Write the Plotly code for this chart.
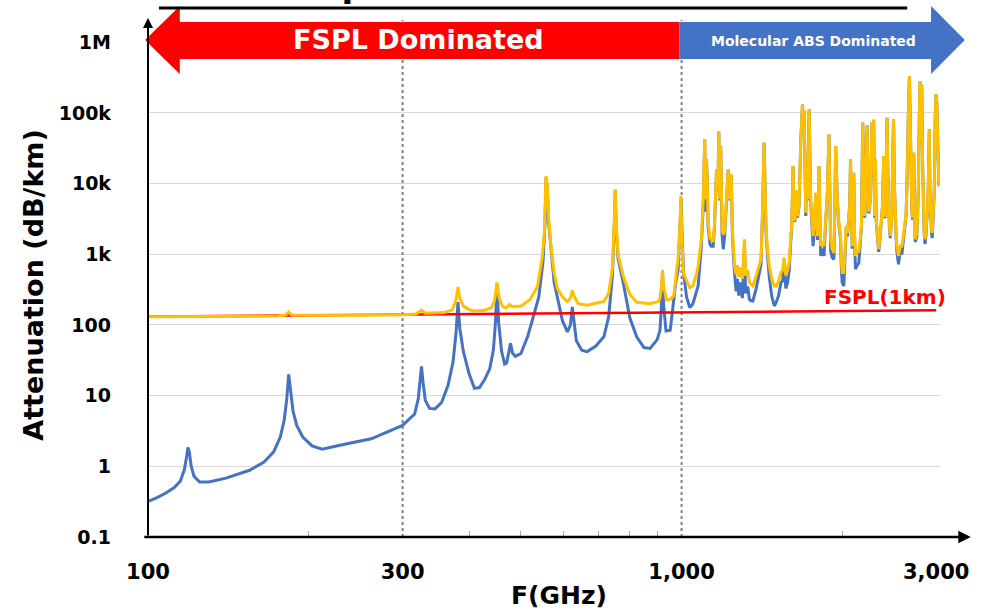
import math
import plotly.graph_objects as go

# ---------------- data ----------------
# Absorption-only curve (blue), 100 GHz .. 1074 GHz
blue_lo_f = [100, 104, 108, 112, 115, 117, 118.2, 118.8, 119.5, 120.5, 122, 125, 130, 140, 155, 165, 172, 177,
             180, 182, 183.5, 185, 187, 190, 195, 203, 212, 230, 262, 300, 316, 321, 324, 325.5, 327.5, 331,
             337, 345, 355, 365, 373, 378, 381, 384, 390, 400, 409, 418, 427, 437, 444, 448, 451, 454, 460,
             466, 470, 475, 478, 482, 488, 500, 515, 530, 540, 550, 555, 557, 560, 563, 569, 577, 585, 598,
             611, 619, 624, 628, 635, 650, 665, 690, 715, 730, 742, 748, 751, 754, 760, 778, 800, 824, 850,
             873, 900, 911, 917, 921, 925, 935, 952, 965, 975, 985, 993, 998, 1003, 1010, 1022, 1036, 1050,
             1067, 1074]
blue_lo_v = [0.32, 0.36, 0.42, 0.5, 0.62, 0.9, 1.4, 1.85, 1.6, 1.0, 0.72, 0.6, 0.6, 0.68, 0.88, 1.15, 1.6, 2.6,
             4.5, 9, 20, 12, 6, 3.8, 2.6, 1.95, 1.75, 2.0, 2.45, 3.8, 5.5, 9, 18, 26, 16, 8.5,
             6.6, 6.5, 8, 14, 30, 80, 211, 90, 42, 20, 12.7, 13, 16.6, 24, 45, 110, 383, 110, 42,
             28, 29, 42, 55, 40, 36, 39.5, 70, 150, 250, 800, 3000, 12000, 9000, 3000, 1100, 400, 248, 115,
             80, 100, 180, 120, 60, 44, 42, 50, 68, 130, 500, 2500, 8000, 2500, 900, 383, 125, 68, 48,
             46.5, 62, 84, 200, 590, 200, 82, 84, 200, 400, 600, 2000, 6000, 1500, 500, 248, 176, 200,
             308, 356]

# Total curve (orange), 100 GHz .. 1074 GHz
orange_lo_f = [100, 140, 175, 181, 183.5, 186, 250, 300, 318, 325.5, 331, 360, 372, 378, 381, 384, 390, 400,
               409, 427, 440, 446, 451, 455, 462, 469, 476, 482, 500, 520, 537, 548, 553, 557, 560, 563, 569,
               577, 585, 598, 611, 619, 624, 628, 640, 665, 690, 715, 730, 742, 748, 751, 754, 760, 778, 800,
               824, 873, 905, 911, 917, 921, 925, 937, 952, 967, 979, 985, 993, 997, 1002, 1008, 1022, 1036,
               1050, 1067, 1074]
orange_lo_v = [131, 132, 134, 138, 152, 138, 137, 140, 143, 162, 147, 150, 165, 230, 345, 240, 185, 165,
               158, 162, 175, 220, 400, 240, 182, 175, 195, 182, 185, 230, 350, 900, 2000, 12800, 10000, 3500, 1300,
               550, 330, 250, 215, 240, 310, 260, 200, 190, 200, 215, 280, 650, 3000, 8300, 3000, 1000, 480, 270,
               210, 200, 215, 240, 350, 600, 350, 225, 230, 260, 600, 850, 2500, 6700, 1400, 551, 420, 338,
               360, 530, 683]

# Molecular-absorption dominated band, 1089 GHz .. 3036 GHz
hi_f = [1089, 1098, 1105, 1108, 1113, 1117, 1121, 1130, 1137, 1146, 1152, 1158, 1163, 1170, 1174, 1179, 1184,
        1191, 1197, 1204, 1211, 1217, 1223, 1228, 1235, 1239, 1245, 1252, 1257, 1265, 1272, 1280, 1290, 1300,
        1312, 1318, 1330, 1340, 1350, 1360, 1380, 1400, 1409, 1418, 1423, 1428, 1434, 1440, 1450, 1460, 1475,
        1492, 1503, 1520, 1535, 1547, 1557, 1568, 1580, 1591, 1600, 1609, 1618, 1625, 1632, 1640, 1649, 1660,
        1673, 1685, 1691, 1697, 1709, 1716, 1722, 1734, 1746, 1755, 1764, 1775, 1784, 1791, 1798, 1805, 1810,
        1817, 1823, 1836, 1849, 1862, 1876, 1889, 1896, 1903, 1915, 1930, 1938, 1944, 1951, 1958, 1970, 1986,
        1993, 2000, 2014, 2025, 2035, 2045, 2058, 2066, 2073, 2080, 2088, 2095, 2102, 2110, 2118, 2133, 2148,
        2160, 2173, 2185, 2195, 2204, 2215, 2227, 2235, 2243, 2259, 2275, 2283, 2291, 2300, 2308, 2316, 2325,
        2341, 2355, 2368, 2380, 2392, 2400, 2409, 2418, 2427, 2435, 2444, 2452, 2461, 2470, 2479, 2488, 2496,
        2505, 2514, 2523, 2532, 2541, 2550, 2568, 2587, 2605, 2620, 2635, 2645, 2655, 2664, 2673, 2683, 2693,
        2700, 2708, 2716, 2724, 2732, 2740, 2750, 2760, 2770, 2779, 2790, 2799, 2809, 2819, 2829, 2839, 2849,
        2859, 2870, 2880, 2890, 2900, 2912, 2920, 2930, 2940, 2950, 2962, 2976, 2987, 2997, 3008, 3019, 3036]
hi_orange = [1630, 6000, 42400, 6000, 22100, 12000, 3000, 1700, 1630, 1500, 2500, 7440, 15900, 8000, 55600, 6000, 34000,
             2260, 1900, 2100, 4000, 9270, 15900, 6000, 8000, 13500, 2260, 1100, 683, 520, 700, 480, 650, 450,
             1630, 500, 600, 400, 370, 356, 500, 700, 850, 4000, 11500, 38100, 8000, 2260, 1100, 683, 450,
             356, 356, 420, 550, 600, 900, 500, 600, 763, 1500, 2800, 17800, 3500, 3000, 8000, 3480, 5000,
             42400, 133000, 60000, 110000, 3890, 15000, 6000, 112000, 5370, 3000, 1810, 3000, 7440, 2500, 1810, 6000, 17800,
             3000, 1300, 1500, 1300, 3000, 7440, 49700, 5000, 1630, 1200, 1050, 6000, 34000, 15000, 6000, 3000, 1810,
             800, 551, 551, 1200, 2520, 2000, 4000, 5000, 22100, 3000, 1300, 5000, 14300, 2000, 950, 1100, 1100,
             1500, 2520, 73100, 10000, 3500, 8000, 67000, 10000, 4000, 6000, 73100, 50000, 80000, 3500, 22100, 3130, 2000,
             1180, 1800, 3130, 5000, 24500, 3500, 3500, 20000, 85900, 15000, 4000, 2500, 1810, 2500, 3800, 30000, 81000,
             10000, 3500, 2000, 1300, 1000, 950, 1300, 1300, 1810, 2500, 3800, 10000, 90000, 150000, 333000, 30000, 15000,
             5000, 3300, 8000, 27400, 5000, 1630, 1800, 2000, 4000, 10000, 100000, 283000, 40000, 250000, 20000, 3130, 2200,
             1630, 2000, 3130, 4000, 10000, 58800, 8000, 2500, 2200, 2000, 3500, 8300, 80000, 184000, 140000, 60000, 9270]
hi_blue = [1300, 5000, 42000, 4000, 22000, 12000, 2500, 1400, 1300, 1300, 2300, 7300, 15800, 7800, 55000, 5800, 34000,
           1900, 1180, 1800, 3800, 9100, 15800, 5800, 7900, 13400, 2000, 800, 490, 300, 450, 260, 400, 240,
           1400, 280, 350, 230, 220, 218, 330, 560, 720, 3900, 11400, 38000, 7800, 2000, 900, 480, 260,
           186, 207, 260, 400, 420, 750, 330, 400, 600, 1300, 2700, 17700, 3400, 2900, 7900, 3300, 4900,
           42300, 133000, 60000, 110000, 3500, 14900, 5800, 112000, 5200, 2800, 1300, 2800, 7300, 2300, 1600, 5900, 17700,
           2800, 950, 1200, 950, 2800, 7300, 49600, 4800, 1100, 900, 850, 5800, 33900, 14900, 5800, 2800, 1600,
           600, 398, 356, 1000, 2400, 1800, 3900, 4900, 22000, 2800, 1200, 4900, 14200, 1500, 614, 700, 750,
           1300, 2400, 73000, 9900, 3300, 7900, 67000, 9900, 3800, 5900, 73000, 50000, 80000, 3300, 22000, 3000, 1800,
           1080, 1700, 3000, 4900, 24400, 3400, 3300, 20000, 85800, 14900, 3800, 2300, 1700, 2400, 3600, 30000, 81000,
           9900, 3300, 1800, 1100, 800, 722, 1100, 1000, 1600, 2400, 3600, 9900, 90000, 150000, 333000, 30000, 14900,
           4900, 3100, 7900, 27300, 4800, 1500, 1600, 1800, 3900, 9900, 100000, 283000, 40000, 250000, 20000, 3000, 2000,
           1400, 1800, 3000, 3900, 9900, 58700, 7900, 2300, 2000, 1700, 3400, 8200, 80000, 184000, 140000, 60000, 9200]

# Free-space path loss over 1 km (red)
fspl_f = [100, 200, 300, 500, 700, 1000, 1500, 2000, 3000]
fspl_v = [132, 138, 141, 146, 149, 152, 155, 158, 161]

# Axis ticks
x_tickvals = [100, 300, 1000, 3000]
x_ticktext = ["100", "300", "1,000", "3,000"]
x_minor = [200, 400, 500, 600, 700, 800, 900, 2000]
y_tickvals = [0.1, 1, 10, 100, 1000, 10000, 100000, 1000000]
y_ticktext = ["0.1", "1", "10", "100", "1k", "10k", "100k", "1M"]
divider_f = [300, 1000]

# ---------------- figure ----------------
W, H = 981, 611
ML, MR, MT, MB = 148, 36, 20, 74
PW, PH = W - ML - MR, H - MT - MB
FONT = "DejaVu Sans"

def px(x):
    return (x - ML) / PW

def py(y):
    return (H - MB - y) / PH

fig = go.Figure()

y_lo, y_hi = -1, -1 + PH / 70.67
for f in divider_f:
    fig.add_trace(go.Scatter(x=[f, f], y=[0.1, 10 ** y_hi], mode="lines",
                             line=dict(color="#7F7F7F", width=2, dash="dot"), hoverinfo="skip"))

fig.add_trace(go.Scatter(x=blue_lo_f + hi_f, y=blue_lo_v + hi_blue, mode="lines",
                         line=dict(color="#4472C4", width=3), name="Absorption"))
fig.add_trace(go.Scatter(x=fspl_f, y=fspl_v, mode="lines",
                         line=dict(color="#FF0000", width=2.5), name="FSPL(1km)"))
fig.add_trace(go.Scatter(x=orange_lo_f + hi_f, y=orange_lo_v + hi_orange, mode="lines",
                         line=dict(color="#FFC000", width=3), name="Total"))

fig.update_layout(
    width=W, height=H, margin=dict(l=ML, r=MR, t=MT, b=MB),
    plot_bgcolor="white", paper_bgcolor="white", showlegend=False,
    xaxis=dict(type="log", range=[2, math.log10(3050)], tickmode="array",
               tickvals=x_tickvals, ticktext=x_ticktext, showgrid=False, zeroline=False,
               showline=False, ticks="", tickfont=dict(family=FONT, size=21, color="black", weight="bold"),
               ticklabelstandoff=20,
               minor=dict(tickmode="array", tickvals=x_minor, ticks="inside", ticklen=6,
                          tickwidth=1, tickcolor="#A6A6A6", showgrid=False)),
    yaxis=dict(type="log", range=[y_lo, y_hi], tickmode="array", tickvals=y_tickvals,
               ticktext=y_ticktext, showgrid=True, gridcolor="#D9D9D9", gridwidth=1,
               zeroline=False, showline=False, ticks="",
               tickfont=dict(family=FONT, size=19, color="black", weight="bold"),
               ticklabelstandoff=36),
)

# Banner arrows
head_l, head_r = 180, 936
tip_l, tip_r = 145, 970
split = 683
yc, bt, bb, ht, hb = 40, 22, 59, 6, 74
red_path = (f"M {px(tip_l)},{py(yc)} L {px(head_l)},{py(ht)} L {px(head_l)},{py(bt)} "
            f"L {px(split)},{py(bt)} L {px(split)},{py(bb)} L {px(head_l)},{py(bb)} "
            f"L {px(head_l)},{py(hb)} Z")
blue_path = (f"M {px(split)},{py(bt)} L {px(head_r)},{py(bt)} L {px(head_r)},{py(ht)} "
             f"L {px(tip_r)},{py(yc)} L {px(head_r)},{py(hb)} L {px(head_r)},{py(bb)} "
             f"L {px(split)},{py(bb)} Z")
fig.add_shape(type="path", path=red_path, xref="paper", yref="paper",
              fillcolor="#FF0000", line=dict(width=0), layer="above")
fig.add_shape(type="path", path=blue_path, xref="paper", yref="paper",
              fillcolor="#4472C4", line=dict(width=0), layer="above")

# title underline
fig.add_shape(type="line", xref="paper", yref="paper", x0=px(159), x1=px(912), y0=py(8), y1=py(8),
              line=dict(color="black", width=3), layer="above")

ann = []
# axis arrows
ann.append(dict(xref="paper", yref="paper", x=px(976), y=0, ax=-(976 - ML), ay=0,
                showarrow=True, arrowhead=2, arrowsize=1, arrowwidth=2.5, arrowcolor="black", text=""))
ann.append(dict(xref="paper", yref="paper", x=0, y=py(18), ax=0, ay=(H - MB - 18),
                showarrow=True, arrowhead=2, arrowsize=1, arrowwidth=2, arrowcolor="black", text=""))

def label(x, y, text, size, color, angle=0):
    return dict(xref="paper", yref="paper", x=px(x), y=py(y), text=text, textangle=angle,
                xanchor="center", yanchor="middle", showarrow=False,
                font=dict(family=FONT, size=size, color=color))

ann.append(label(420, 40, "<b>FSPL Dominated</b>", 27, "white"))
ann.append(label(818, 41, "<b>Molecular ABS Dominated</b>", 14, "white"))
ann.append(label(890, 297, "<b>FSPL(1km)</b>", 20, "#FF0000"))
ann.append(label(562, 595, "<b>F(GHz)</b>", 25, "black"))
ann.append(label(32, 285, "<b>Attenuation (dB/km)</b>", 27, "black", angle=-90))
ann.append(label(530, -15, "<b>Atmospheric Attenuation of THz</b>", 34, "black"))
fig.update_layout(annotations=ann)

fig.write_html("out.html", post_script="document.body.style.margin='0';",
               config={"displayModeBar": False})
